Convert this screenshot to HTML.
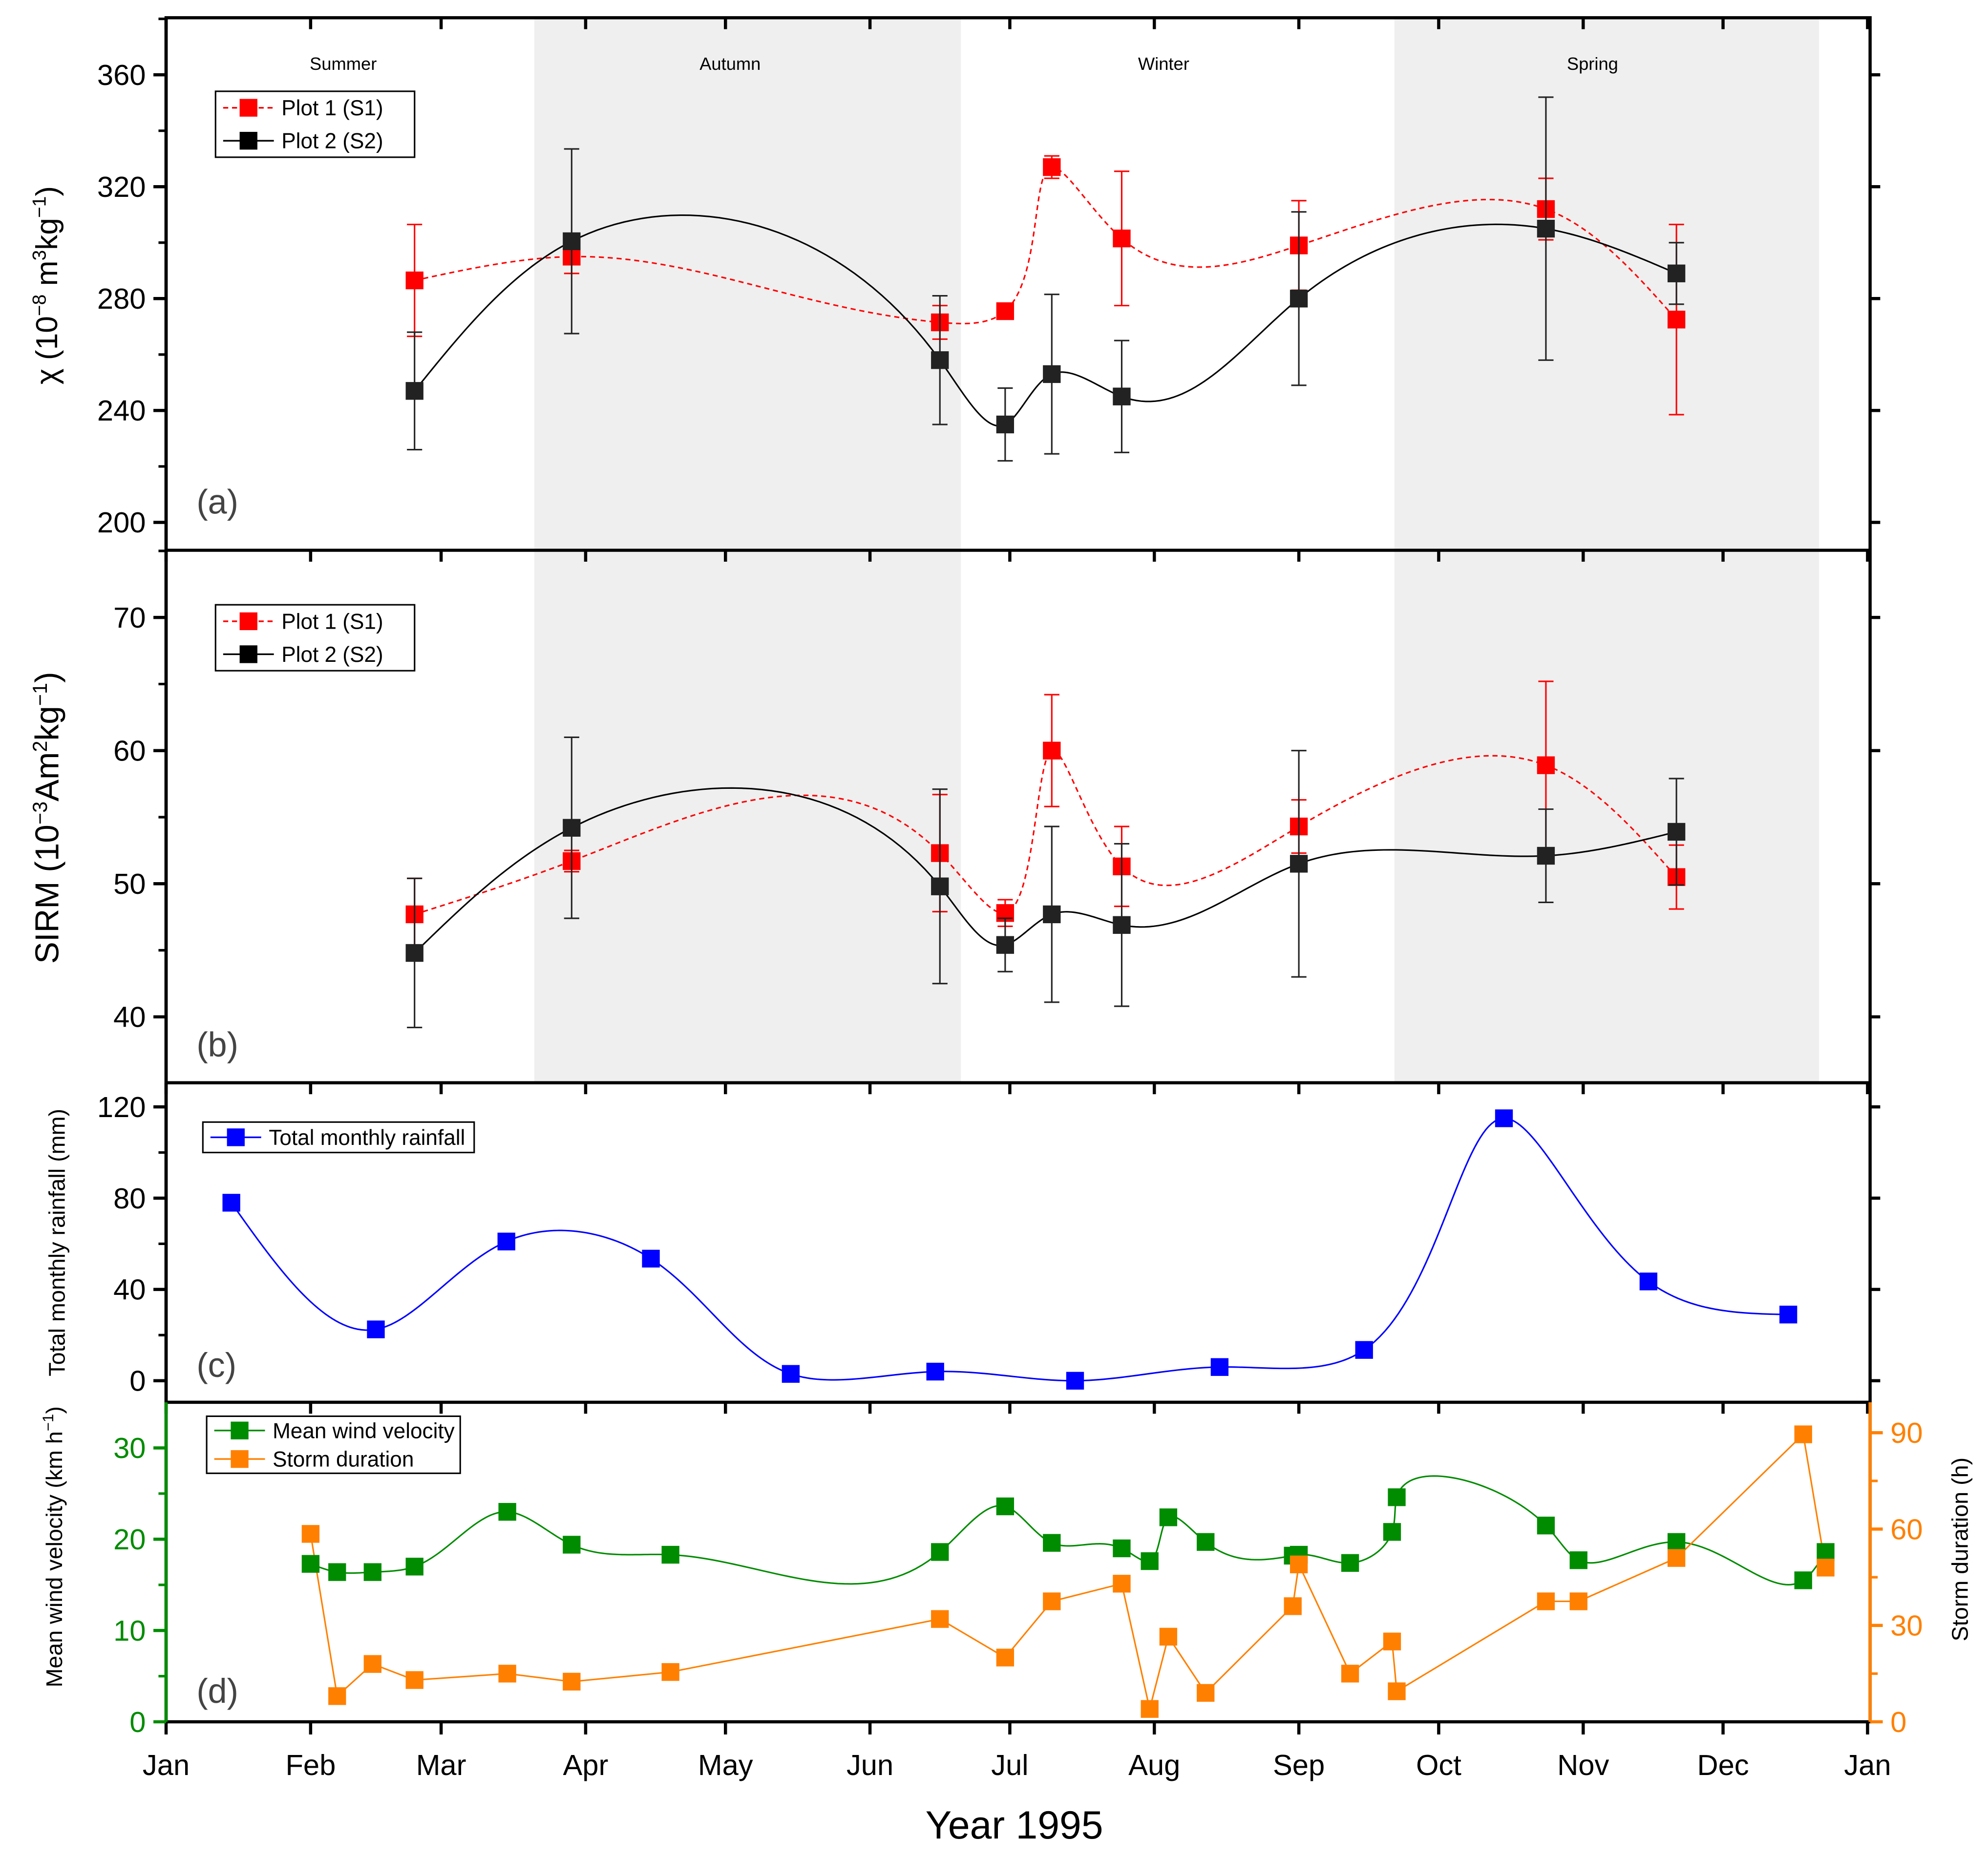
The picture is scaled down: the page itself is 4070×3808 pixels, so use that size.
<!DOCTYPE html>
<html><head><meta charset="utf-8"><style>
html,body{margin:0;padding:0;background:#fff}
svg{display:block}
text{font-family:"Liberation Sans",Arial,sans-serif}
</style></head><body>
<svg id="chart" width="4070" height="3808" viewBox="0 0 1568 1467" preserveAspectRatio="none" xmlns="http://www.w3.org/2000/svg"></svg>
<script>
const monthLabels=["Jan","Feb","Mar","Apr","May","Jun","Jul","Aug","Sep","Oct","Nov","Dec","Jan"];
const monthDays=[0,31,59,90,120,151,181,212,243,273,304,334,365];
const seasonNames=["Summer","Autumn","Winter","Spring"];
const seasonLabelDays=[38,121,214,306];
const seasonBounds=[0,79,170.5,263.5,354.6];
const chiDays=[53.3,87,166,180,190,205,243,296,324];
const chiS1=[286.5,295,271.5,275.5,327,301.5,299,312,272.5];
const chiS1Err=[20,6,6,2,4,24,16,11,34];
const chiS2=[247,300.5,258,235,253,245,280,305,289];
const chiS2Err=[21,33,23,13,28.5,20,31,47,11];
const sirmS1=[47.7,51.7,52.3,47.8,60,51.3,54.3,58.9,50.5];
const sirmS1Err=[2.7,0.8,4.4,1,4.2,3,2,6.3,2.4];
const sirmS2=[44.8,54.2,49.8,45.4,47.7,46.9,51.5,52.1,53.9];
const sirmS2Err=[5.6,6.8,7.3,2,6.6,6.1,8.5,3.5,4];
const rainDays=[14,45,73,104,134,165,195,226,257,287,318,348];
const rainValues=[78,22.5,61,53.5,3,4,0,6,13.5,115,43.5,29];
const windDays=[31,36.7,44.3,53.3,73.2,87,108.2,166,180,190,205,211,215,223,241.7,243,254,263,264,296,303,324,351.2,356];
const windValues=[17.3,16.4,16.4,17,23,19.4,18.3,18.6,23.6,19.6,19,17.6,22.4,19.7,18.2,18.3,17.4,20.8,24.6,21.5,17.7,19.7,15.5,18.6];
const stormValues=[58.5,8,18,13,15,12.5,15.5,32,20,37.5,43,4,26.5,9,36,49,15,25,9.5,37.5,37.5,51,89.5,48];
const chiTicks=[200,240,280,320,360];
const sirmTicks=[40,50,60,70];
const rainTicks=[0,40,80,120];
const windTicks=[0,10,20,30];
const stormTicks=[0,30,60,90];

const NS="http://www.w3.org/2000/svg";
const svg=document.getElementById('chart');
const L=131,R=1475;
const X=d=>L+d*(R-2-L)/365;
const Ya=v=>412-(v-200)*353/160;
const Yb=v=>802-(v-40)*10.5;
const Yc=v=>1089-v*1.8;
const Yd=v=>1358-v*7.2;
const Yd2=v=>1358-v*228/90;
function el(tag,attrs,parent){const e=document.createElementNS(NS,tag);for(const k in attrs)e.setAttribute(k,attrs[k]);(parent||svg).appendChild(e);return e;}
function txt(s,x,y,size,attrs,parent){const t=el('text',Object.assign({x:x,y:y,'font-size':size},attrs||{}),parent);t.textContent=s;return t;}
function coefs(xs,ys){const n=xs.length;const h=[],al=[0],l=[1],mu=[0],z=[0],c=new Array(n).fill(0),b=[],d=[];
 for(let i=0;i<n-1;i++)h.push(xs[i+1]-xs[i]);
 for(let i=1;i<n-1;i++)al.push(3/h[i]*(ys[i+1]-ys[i])-3/h[i-1]*(ys[i]-ys[i-1]));
 for(let i=1;i<n-1;i++){l[i]=2*(xs[i+1]-xs[i-1])-h[i-1]*mu[i-1];mu[i]=h[i]/l[i];z[i]=(al[i]-h[i-1]*z[i-1])/l[i];}
 for(let j=n-2;j>=0;j--){c[j]=z[j]-mu[j]*c[j+1];b[j]=(ys[j+1]-ys[j])/h[j]-h[j]*(c[j+1]+2*c[j])/3;d[j]=(c[j+1]-c[j])/(3*h[j]);}
 return {h,b,c,d};}
function pspline(px,py){const n=px.length;const t=[0];
 for(let i=1;i<n;i++)t.push(t[i-1]+Math.hypot(px[i]-px[i-1],py[i]-py[i-1]));
 const cx=coefs(t,px),cy=coefs(t,py);const pts=[];
 for(let j=0;j<n-1;j++){for(let k=0;k<40;k++){const s=cx.h[j]*k/40;
  pts.push([px[j]+cx.b[j]*s+cx.c[j]*s*s+cx.d[j]*s*s*s,py[j]+cy.b[j]*s+cy.c[j]*s*s+cy.d[j]*s*s*s]);}}
 pts.push([px[n-1],py[n-1]]);return pts;}
function curve(xs,ys,yf,color,dash,name){const p=pspline(xs.map(X),ys.map(yf)).map(q=>q[0].toFixed(2)+','+q[1].toFixed(2)).join(' ');
 const e=el('polyline',{points:p,fill:'none',stroke:color,'stroke-width':1.2,'stroke-dasharray':dash||'none'});
 
 }
function markers(xs,ys,yf,color,name,errs){const g=el('g',{});
 
 
 for(let i=0;i<xs.length;i++){const x=X(xs[i]),y=yf(ys[i]);
  if(errs){const y1=yf(ys[i]+errs[i]),y2=yf(ys[i]-errs[i]);
   el('line',{x1:x,x2:x,y1:y1,y2:y2,stroke:color,'stroke-width':1.2},g);
   el('line',{x1:x-6,x2:x+6,y1:y1,y2:y1,stroke:color,'stroke-width':1.2},g);
   el('line',{x1:x-6,x2:x+6,y1:y2,y2:y2,stroke:color,'stroke-width':1.2},g);}
  const m=el('rect',{x:x-7,y:y-7,width:14,height:14,fill:color},g);
  
  }}
function yaxis(ticks,yf,top,bot,color,side,minor){const x=side==='l'?L:R,dir=side==='l'?-1:1;
 const g=el('g',{});
 
 
 el('line',{x1:x,x2:x,y1:top,y2:bot,stroke:color,'stroke-width':2.5},g);
 ticks.forEach((v,i)=>{const y=yf(v);el('line',{x1:x,x2:x+dir*10,y1:y,y2:y,stroke:color,'stroke-width':2.5},g);
  txt(String(v),x+dir*16,y+8,23,{'text-anchor':side==='l'?'end':'start',fill:color},g);
  if(i<ticks.length-1){const ym=yf(v+minor);if(ym>top)el('line',{x1:x,x2:x+dir*6,y1:ym,y2:ym,stroke:color,'stroke-width':2},g);}
 });
 const yl=yf(ticks[ticks.length-1]+minor);if(yl>top)el('line',{x1:x,x2:x+dir*6,y1:yl,y2:yl,stroke:color,'stroke-width':2},g);}
function legend(x,y,w,h,items){const g=el('g',{});
 
 
 el('rect',{x:x,y:y,width:w,height:h,fill:'#fff',stroke:'#000','stroke-width':1.2},g);
 items.forEach((it,i)=>{const yy=y+(h/items.length)*(i+0.5);
  el('line',{x1:x+6,x2:x+46,y1:yy,y2:yy,stroke:it.c,'stroke-width':1.3,'stroke-dasharray':it.d||'none'},g);
  el('rect',{x:x+19,y:yy-7,width:14,height:14,fill:it.c},g);
  const t=txt(it.t,x+52,yy+6,17,{},g);
  
  });}

for(const i of [1,3]){const r=el('rect',{x:X(seasonBounds[i]),y:14,width:X(seasonBounds[i+1])-X(seasonBounds[i]),height:840,fill:'#efefef'});
 
 }
seasonNames.forEach((s,i)=>{const t=txt(s,X(seasonLabelDays[i]),55,14,{'text-anchor':'middle'});
 
 });

curve(chiDays,chiS1,Ya,'#ff0000','4,3','chi-s1-line');
curve(chiDays,chiS2,Ya,'#000','none','chi-s2-line');
markers(chiDays,chiS1,Ya,'#ff0000','chi-s1',chiS1Err);
markers(chiDays,chiS2,Ya,'#222','chi-s2',chiS2Err);
curve(chiDays,sirmS1,Yb,'#ff0000','4,3','sirm-s1-line');
curve(chiDays,sirmS2,Yb,'#000','none','sirm-s2-line');
markers(chiDays,sirmS1,Yb,'#ff0000','sirm-s1',sirmS1Err);
markers(chiDays,sirmS2,Yb,'#222','sirm-s2',sirmS2Err);
curve(rainDays,rainValues,Yc,'#0000ff','none','rainfall-line');
markers(rainDays,rainValues,Yc,'#0000ff','rainfall');
curve(windDays,windValues,Yd,'#008c00','none','wind-line');
{const p=windDays.map((d,i)=>X(d)+','+Yd2(stormValues[i])).join(' ');
 const e=el('polyline',{points:p,fill:'none',stroke:'#ff8000','stroke-width':1.2});
 
 }
markers(windDays,windValues,Yd,'#008c00','wind');
markers(windDays,stormValues,Yd2,'#ff8000','storm');

el('rect',{x:L,y:14,width:R-L,height:1344,fill:'none',stroke:'#000','stroke-width':2.5});
[434,854,1106].forEach(y=>el('line',{x1:L,x2:R,y1:y,y2:y,stroke:'#000','stroke-width':2.5}));
[14,434,854,1106].forEach(y=>monthDays.forEach(d=>el('line',{x1:X(d),x2:X(d),y1:y,y2:y+9,stroke:'#000','stroke-width':2.5})));
monthDays.forEach((d,i)=>{el('line',{x1:X(d),x2:X(d),y1:1358,y2:1368,stroke:'#000','stroke-width':2.5});
 const t=txt(monthLabels[i],X(d),1400,23,{'text-anchor':'middle'});
 
 });
yaxis(chiTicks,Ya,14,434,'#000','l',20);
yaxis(sirmTicks,Yb,434,854,'#000','l',5);
yaxis(rainTicks,Yc,854,1106,'#000','l',20);
yaxis(windTicks,Yd,1106,1358,'#008c00','l',5);
yaxis(stormTicks,Yd2,1106,1358,'#ff8000','r',15);
[[chiTicks,Ya],[sirmTicks,Yb],[rainTicks,Yc]].forEach(a=>a[0].forEach(v=>{el('line',{x1:R,x2:R+8,y1:a[1](v),y2:a[1](v),stroke:'#000','stroke-width':2.5});}));

[["(a)",405],["(b)",833],["(c)",1086],["(d)",1343]].forEach(p=>{const t=txt(p[0],155,p[1],27,{fill:'#444'});
 
 });
function ytitle(html,x,y,size,name){const t=el('text',{x:0,y:0,'font-size':size,'text-anchor':'middle',transform:`translate(${x},${y}) rotate(-90)`});t.innerHTML=html;
 
 }
ytitle('χ (10<tspan dy="-9" font-size="15">−8</tspan><tspan dy="9"> m</tspan><tspan dy="-9" font-size="15">3</tspan><tspan dy="9">kg</tspan><tspan dy="-9" font-size="15">−1</tspan><tspan dy="9">)</tspan>',45,225,24,'chi-y-axis-title');
ytitle('SIRM (10<tspan dy="-9" font-size="16">−3</tspan><tspan dy="9">Am</tspan><tspan dy="-9" font-size="16">2</tspan><tspan dy="9">kg</tspan><tspan dy="-9" font-size="16">−1</tspan><tspan dy="9">)</tspan>',46,645,26,'sirm-y-axis-title');
ytitle('Total monthly rainfall (mm)',51,980,18,'rainfall-y-axis-title');
ytitle('Mean wind velocity (km h<tspan dy="-7" font-size="12">−1</tspan><tspan dy="7">)</tspan>',49,1220,18,'wind-y-axis-title');
ytitle('Storm duration (h)',1552,1222,18,'storm-y-axis-title');
{const t=txt('Year 1995',800,1450,31,{'text-anchor':'middle'});
 
 }

legend(170,72,157,52,[{t:'Plot 1 (S1)',c:'#ff0000',d:'4,3'},{t:'Plot 2 (S2)',c:'#000'}]);
legend(170,477,157,52,[{t:'Plot 1 (S1)',c:'#ff0000',d:'4,3'},{t:'Plot 2 (S2)',c:'#000'}]);
legend(160,885,214,24,[{t:'Total monthly rainfall',c:'#0000ff'}]);
legend(163,1117,200,45,[{t:'Mean wind velocity',c:'#008c00'},{t:'Storm duration',c:'#ff8000'}]);
</script>
</body></html>
